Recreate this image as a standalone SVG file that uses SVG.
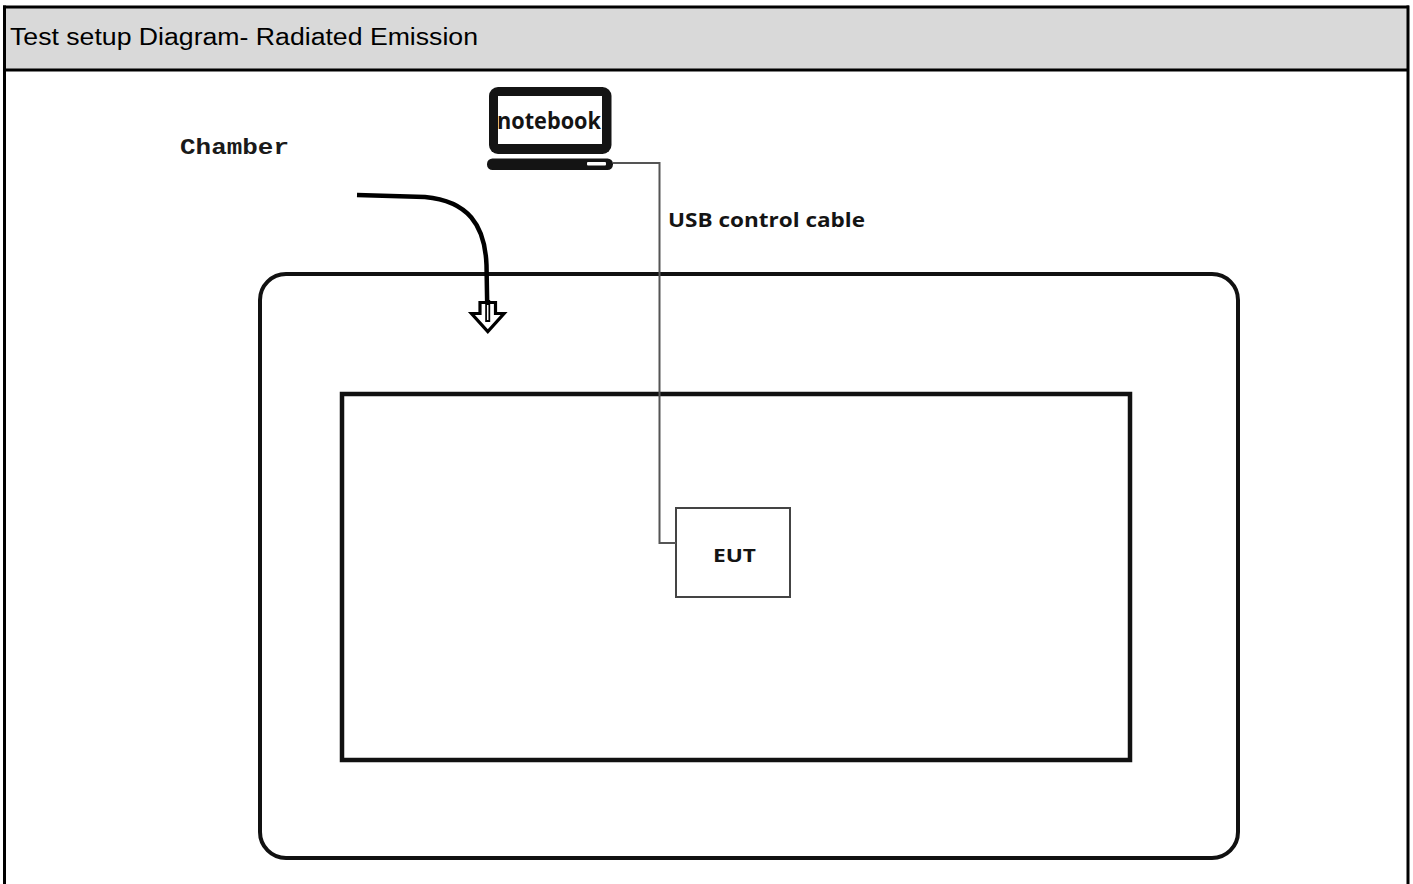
<svg xmlns="http://www.w3.org/2000/svg" width="1413" height="884" viewBox="0 0 1413 884">
  <style>
    .frame { stroke: #000; stroke-width: 3; fill: none; }
    .heavy { stroke: #111; stroke-width: 4; fill: none; }
    .cable { stroke: #555; stroke-width: 2; fill: none; }
    .lbl { font-family: "Open Sans", "DejaVu Sans", sans-serif; font-weight: bold; fill: #141414; }
  </style>
  <rect x="0" y="0" width="1413" height="884" fill="#fff"/>
  <g id="header">
    <rect x="4.5" y="7" width="1403" height="63" fill="#d9d9d9"/>
    <line class="frame" x1="3" y1="7" x2="1409" y2="7"/>
    <line class="frame" x1="4.5" y1="70" x2="1408" y2="70"/>
    <text x="10" y="45" font-family="Liberation Sans, Arial, sans-serif" font-size="23" textLength="468" lengthAdjust="spacingAndGlyphs" fill="#000">Test setup Diagram- Radiated Emission</text>
  </g>
  <g id="border">
    <line class="frame" x1="4.5" y1="5.5" x2="4.5" y2="884"/>
    <line class="frame" x1="1408" y1="5.5" x2="1408" y2="884"/>
  </g>
  <g id="chamber">
    <rect class="heavy" x="260" y="274" width="978" height="584" rx="26" ry="26"/>
    <text x="180" y="154" font-family="Liberation Mono, Courier New, monospace" font-weight="bold" font-size="22" textLength="109" lengthAdjust="spacingAndGlyphs" fill="#1a1a1a">Chamber</text>
  </g>
  <g id="table">
    <rect x="342" y="394" width="788" height="366" fill="none" stroke="#111" stroke-width="4.5"/>
  </g>
  <g id="notebook">
    <rect x="489" y="87" width="122.5" height="67" rx="9" ry="9" fill="#141414"/>
    <rect x="498" y="96" width="104" height="48" fill="#fff"/>
    <rect x="487" y="158.5" width="126" height="11.5" rx="5.5" ry="5.5" fill="#141414"/>
    <rect x="587" y="162" width="19" height="3.5" rx="1" fill="#fff"/>
    <text class="lbl" x="497" y="128.5" font-size="23" textLength="104" lengthAdjust="spacingAndGlyphs">notebook</text>
  </g>
  <g id="eut">
    <rect x="676" y="508" width="114" height="89" fill="#fff" stroke="#444" stroke-width="2"/>
    <text class="lbl" x="713" y="562" font-size="18" textLength="43" lengthAdjust="spacingAndGlyphs">EUT</text>
  </g>
  <g id="connectors">
    <path class="cable" d="M613,163 H659.5 V543 H676"/>
    <text class="lbl" x="668" y="227" font-size="20" textLength="197" lengthAdjust="spacingAndGlyphs">USB control cable</text>
    <path d="M357,195 L425,197 C468,201 485,225 486.5,265 L487.5,322" fill="none" stroke="#000" stroke-width="4.5"/>
    <polygon points="480,302.5 495.5,302.5 495.5,313.5 504,313.5 487.8,331.5 471.5,313.5 480,313.5" fill="#fff" stroke="#000" stroke-width="3.2" stroke-linejoin="miter"/>
    <line x1="487.7" y1="300" x2="487.7" y2="322" stroke="#000" stroke-width="5"/>
    <line x1="487.7" y1="305" x2="487.7" y2="320" stroke="#fff" stroke-width="1.5"/>
  </g>
</svg>
